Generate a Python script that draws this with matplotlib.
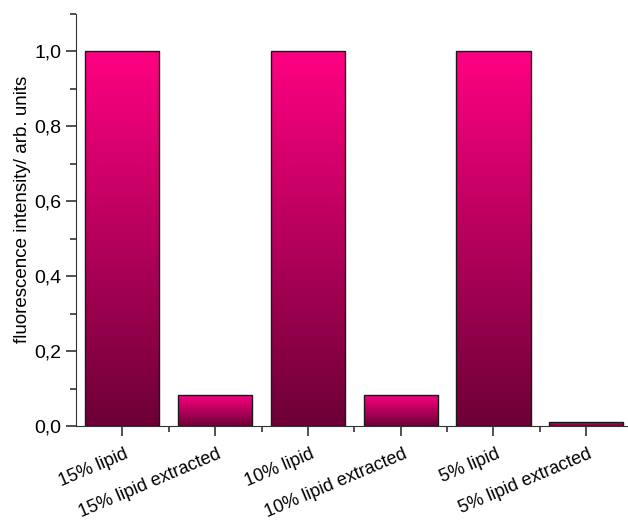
import numpy as np
import matplotlib.pyplot as plt
from matplotlib.colors import LinearSegmentedColormap
from matplotlib.ticker import MultipleLocator, FuncFormatter
import matplotlib.transforms as mtransforms

plt.rcParams['font.family'] = ['Liberation Sans', 'DejaVu Sans']

# data
categories = ["15% lipid", "15% lipid extracted", "10% lipid",
              "10% lipid extracted", "5% lipid", "5% lipid extracted"]
values = [1.0, 0.084, 1.0, 0.084, 1.0, 0.011]

fig = plt.figure(figsize=(6.28, 5.2), dpi=100)
ax = fig.add_axes([76/628, 94/520, 552/628, 412/520])

x = np.arange(1, len(values) + 1)
w = 0.8
cmap = LinearSegmentedColormap.from_list("pink", ["#6C0036", "#FF0082"])
grad = np.linspace(0, 1, 256).reshape(-1, 1)

bars = ax.bar(x, values, width=w, facecolor="none", edgecolor="#1a1a1a", linewidth=1.0, zorder=3)
for b in bars:
    x0, y0 = b.get_x(), b.get_y()
    im = ax.imshow(grad, cmap=cmap, origin="lower", aspect="auto",
                   extent=(x0, x0 + b.get_width(), y0, y0 + b.get_height()), zorder=2)
    im.set_clip_path(b)

ax.set_xlim(0.5, 6.45)
ax.set_ylim(0, 1.1)

ax.spines["top"].set_visible(False)
ax.spines["right"].set_visible(False)
ax.spines["left"].set_color("#333333")
ax.spines["bottom"].set_color("#333333")

ax.yaxis.set_major_locator(MultipleLocator(0.2))
ax.yaxis.set_minor_locator(MultipleLocator(0.1))
ax.yaxis.set_major_formatter(FuncFormatter(lambda v, p: f"{v:.1f}".replace(".", ",")))
ax.set_xticks(x)
ax.set_xticks(x[:-1] + 0.5, minor=True)
ax.set_xticklabels(categories, rotation=23, ha="right")

ax.tick_params(axis="both", which="major", direction="out", length=7, width=1.2,
               colors="#333333", labelcolor="black", labelsize=14)
ax.tick_params(axis="x", which="major", labelsize=13, pad=7)
ax.tick_params(axis="both", which="minor", direction="out", length=4, width=1.2, colors="#333333")

offset = mtransforms.ScaledTranslation(8.5/100, 0, fig.dpi_scale_trans)
for lab in ax.get_xticklabels():
    lab.set_transform(lab.get_transform() + offset)

ax.set_ylabel("fluorescence intensity/ arb. units", fontsize=13.5)
ax.yaxis.set_label_coords(-0.082, 0.527)

fig.savefig("out.png", dpi=100)
